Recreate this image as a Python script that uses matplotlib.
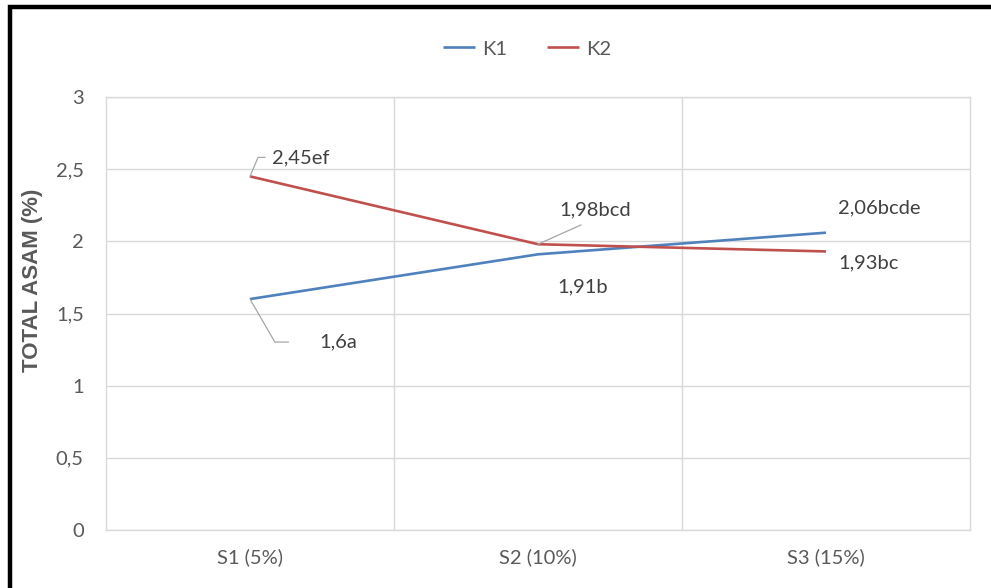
import matplotlib
matplotlib.use("Agg")
import matplotlib.pyplot as plt
from matplotlib.patches import Rectangle

# Data
categories = ["S1 (5%)", "S2 (10%)", "S3 (15%)"]
k1_values = [1.6, 1.91, 2.06]
k2_values = [2.45, 1.98, 1.93]
k1_labels = ["1,6a", "1,91b", "2,06bcde"]
k2_labels = ["2,45ef", "1,98bcd", "1,93bc"]
y_ticks = [0, 0.5, 1, 1.5, 2, 2.5, 3]
y_tick_labels = ["0", "0,5", "1", "1,5", "2", "2,5", "3"]

BLUE = "#4F81BD"
RED = "#C0504D"
GRID = "#D9D9D9"
TICK = "#595959"
LABEL = "#404040"
FS = 14.5

plt.rcParams["font.family"] = ["Lato", "DejaVu Sans"]

fig = plt.figure(figsize=(9.91, 5.88), dpi=100)
fig.patch.set_facecolor("white")
ax = fig.add_axes([106 / 991, 1 - 530 / 588, 864 / 991, 433 / 588])

x = list(range(len(categories)))
ax.plot(x, k1_values, color=BLUE, lw=1.9, solid_capstyle="butt", label="K1", zorder=3)
ax.plot(x, k2_values, color=RED, lw=1.9, solid_capstyle="butt", label="K2", zorder=3)

ax.set_xlim(-0.5, len(categories) - 0.5)
ax.set_ylim(0, 3)
ax.set_xticks(x)
ax.set_xticklabels(categories)
ax.set_yticks(y_ticks)
ax.set_yticklabels(y_tick_labels)
ax.tick_params(axis="both", length=0, labelsize=FS, labelcolor=TICK)
ax.tick_params(axis="y", pad=16)
ax.tick_params(axis="x", pad=13)

# category separators and horizontal grid
ax.set_xticks([0.5, 1.5], minor=True)
ax.tick_params(axis="x", which="minor", length=0)
ax.grid(axis="y", which="major", color=GRID, lw=1)
ax.grid(axis="x", which="minor", color=GRID, lw=1)
for s in ax.spines.values():
    s.set_color(GRID)
    s.set_linewidth(1)
ax.set_axisbelow(True)

# data labels with Excel-like leader lines
lead = dict(arrowstyle="-", color="#A6A6A6", lw=0.9, shrinkB=0)
txt = dict(textcoords="offset pixels", fontsize=FS, color=LABEL, va="center", ha="left")

ax.annotate(k2_labels[0], xy=(0, k2_values[0]), xytext=(22, 19),
            arrowprops=dict(lead, shrinkA=3, relpos=(0, 0.5),
                            connectionstyle="angle,angleA=0,angleB=67,rad=0"), **txt)
ax.annotate(k1_labels[0], xy=(0, k1_values[0]), xytext=(69, -43),
            arrowprops=dict(lead, shrinkA=20, relpos=(0, 0.5),
                            connectionstyle="angle,angleA=0,angleB=-60,rad=0"), **txt)
ax.annotate(k2_labels[1], xy=(1, k2_values[1]), xytext=(21, 34),
            arrowprops=dict(lead, shrinkA=6, relpos=(0.5, 0)), **txt)
ax.annotate(k1_labels[1], xy=(1, k1_values[1]), xytext=(19, -33), **txt)
ax.annotate(k1_labels[2], xy=(2, k1_values[2]), xytext=(12, 25), **txt)
ax.annotate(k2_labels[2], xy=(2, k2_values[2]), xytext=(12, -11), **txt)

fig.text(33 / 991, 1 - 280 / 588, "TOTAL ASAM (%)", rotation=90, ha="center", va="center",
         fontsize=16, fontweight="bold", color=TICK, family=["Liberation Sans", "DejaVu Sans"])

leg = fig.legend(loc="center", bbox_to_anchor=(527 / 991, 1 - 49 / 588), ncol=2,
                 frameon=False, fontsize=FS, handlelength=1.6, handletextpad=0.35,
                 columnspacing=2.0)
for t in leg.get_texts():
    t.set_color(TICK)

# heavy black frame along the top and left edges
fig.patches.append(Rectangle((10 / 991, -0.5), 2, 0.5 + 1 - 7 / 588, transform=fig.transFigure,
                             fill=False, edgecolor="black", lw=3.2, zorder=10))

fig.savefig("out.png", dpi=100, facecolor="white")
